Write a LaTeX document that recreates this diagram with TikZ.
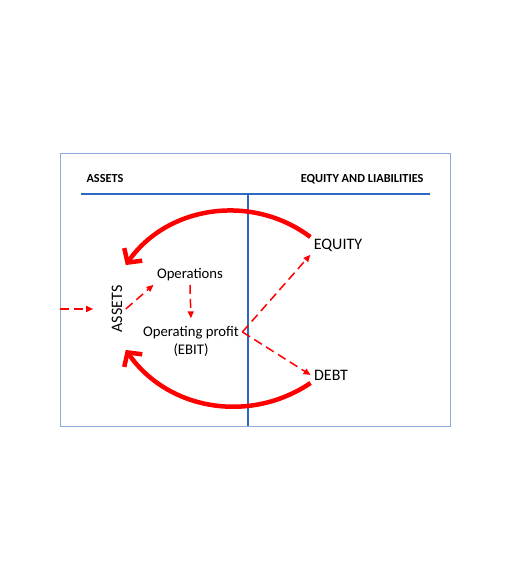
\documentclass[tikz,border=0pt]{standalone}
\usepackage{fontspec}
\setmainfont{Carlito}
\usepackage{tikz}
\usetikzlibrary{arrows.meta, positioning}

\definecolor{framegray}{RGB}{143,170,220}
\definecolor{lineblue}{RGB}{46,104,192}

\begin{document}
\begin{tikzpicture}[x=1pt, y=1pt,
    flow/.style={red, line width=4.5pt, -{Straight Barb[length=10pt, width=22pt]}},
    link/.style={red, line width=1.5pt, dash pattern=on 9pt off 5pt, -{Triangle[length=7pt, width=6pt]}},
    big/.style={font=\fontsize{16}{19}\selectfont},
    small/.style={font=\fontsize{14.7}{18}\selectfont},
    head/.style={font=\fontsize{12.3}{15}\selectfont\bfseries}]
    \useasboundingbox (0, 0) rectangle (510, 578);

    \draw[framegray, line width=0.9pt] (60, 152) rectangle (450, 425);
    \draw[lineblue, line width=1.6pt]
    (81, 384) edge (430, 384)
    (248, 384) edge (248, 152);

    \node[head, anchor=west] (lefthead) at (83, 399) {ASSETS};
    \node[head, anchor=east] (righthead) at (427, 399) {EQUITY AND LIABILITIES};

    \node[big] (equity) at (338, 333) {EQUITY};
    \node[big] (debt) at (331, 203) {DEBT};
    \node[big, rotate=90] (assets) at (117, 269) {ASSETS};
    \node[small] (ops) at (190, 303) {Operations};
    \node[small, align=center] (ebit) at (191, 237) {Operating profit\\(EBIT)};

    \coordinate (inflow) at (60, 269);
    \coordinate (split) at ([yshift=9pt]ebit.east);

    \draw[link, shorten >=15pt] (inflow) -- (assets.north);
    \draw[link] (assets.south) -- (ops.south west);
    \draw[link, shorten >=4pt] (ops.south) -- (ebit.north);
    \draw[link] (split) -- (equity.south west);
    \draw[link] (split) -- (debt.west);

    \draw[flow] ([yshift=8pt]equity.west) to[out=143, in=55] ([yshift=17pt]assets.south east);
    \draw[flow] ([yshift=-8pt]debt.west) to[out=214, in=-55] ([yshift=-14pt]assets.south west);
\end{tikzpicture}
\end{document}
